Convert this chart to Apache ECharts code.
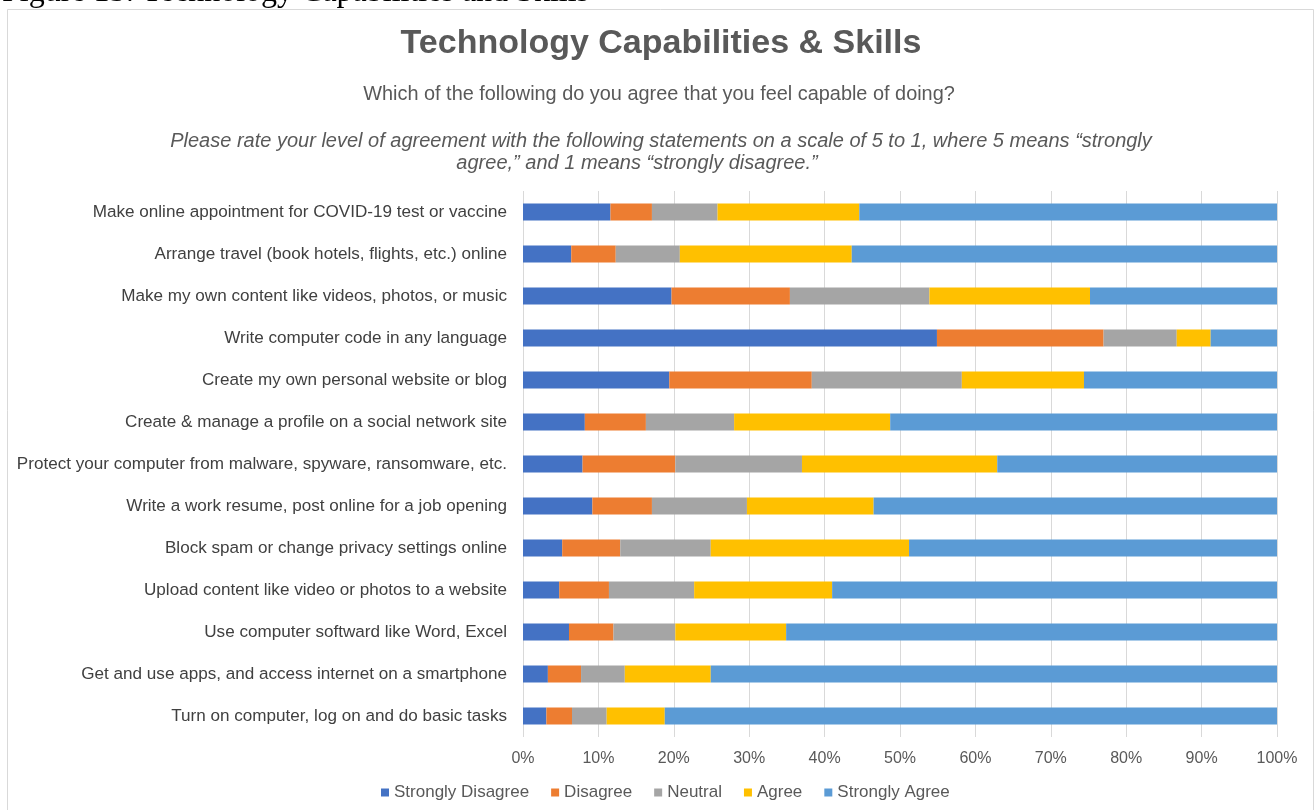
<!DOCTYPE html>
<html>
<head>
<meta charset="utf-8">
<title>Technology Capabilities &amp; Skills</title>
<script src="https://cdn.jsdelivr.net/npm/echarts@6/dist/echarts.min.js"></script>
<style>
  html, body { margin: 0; padding: 0; background: #ffffff; }
  #chart { width: 1316px; height: 810px; }
</style>
</head>
<body>
<div id="chart"></div>
<script>
// Survey statements, listed top to bottom
const categories = [
  'Make online appointment for COVID-19 test or vaccine',
  'Arrange travel (book hotels, flights, etc.) online',
  'Make my own content like videos, photos, or music',
  'Write computer code in any language',
  'Create my own personal website or blog',
  'Create & manage a profile on a social network site',
  'Protect your computer from malware, spyware, ransomware, etc.',
  'Write a work resume, post online for a job opening',
  'Block spam or change privacy settings online',
  'Upload content like video or photos to a website',
  'Use computer softward like Word, Excel',
  'Get and use apps, and access internet on a smartphone',
  'Turn on computer, log on and do basic tasks'
];

// Share of respondents (%) per answer, same order as categories
const stronglyDisagree = [11.6, 6.4, 19.7, 54.9, 19.4, 8.2, 7.9, 9.2, 5.2, 4.8, 6.1, 3.3, 3.1];
const disagree         = [5.5, 5.9, 15.7, 22.1, 18.9, 8.1, 12.3, 7.9, 7.7, 6.6, 5.9, 4.4, 3.4];
const neutral          = [8.7, 8.5, 18.5, 9.7, 19.9, 11.7, 16.8, 12.6, 12.0, 11.3, 8.2, 5.8, 4.6];
const agree            = [18.8, 22.8, 21.3, 4.5, 16.2, 20.7, 25.9, 16.8, 26.3, 18.3, 14.7, 11.4, 7.7];
const stronglyAgree    = [55.4, 56.4, 24.8, 8.8, 25.6, 51.3, 37.1, 53.5, 48.8, 59.0, 65.1, 75.1, 81.2];

const seriesNames = ['Strongly Disagree', 'Disagree', 'Neutral', 'Agree', 'Strongly Agree'];
const seriesData = [stronglyDisagree, disagree, neutral, agree, stronglyAgree];
const seriesColors = ['#4472C4', '#ED7D31', '#A5A5A5', '#FFC000', '#5B9BD5'];

const chart = echarts.init(document.getElementById('chart'), null, { renderer: 'canvas' });

const sans = 'Liberation Sans, Arial, sans-serif';

chart.setOption({
  animation: false,
  backgroundColor: '#ffffff',
  textStyle: { fontFamily: sans },
  graphic: [
    {
      type: 'rect', silent: true, z: 0,
      shape: { x: 7.5, y: 9.5, width: 1306, height: 830 },
      style: { fill: 'none', stroke: '#d9d9d9', lineWidth: 1 }
    },
    {
      type: 'text', silent: true, x: 2, y: -7,
      style: {
        text: 'Figure 15: Technology Capabilities and Skills',
        fontFamily: 'Liberation Serif, Times New Roman, serif',
        fontSize: 32, fill: '#000000', verticalAlign: 'middle'
      }
    },
    {
      type: 'text', silent: true, x: 661, y: 44,
      style: {
        text: 'Technology Capabilities & Skills',
        fontFamily: sans, fontSize: 34, fontWeight: 'bold',
        fill: '#595959', align: 'center', verticalAlign: 'middle'
      }
    },
    {
      type: 'text', silent: true, x: 659, y: 95,
      style: {
        text: 'Which of the following do you agree that you feel capable of doing?',
        fontFamily: sans, fontSize: 19.9,
        fill: '#595959', align: 'center', verticalAlign: 'middle'
      }
    },
    {
      type: 'text', silent: true, x: 661, y: 141,
      style: {
        text: 'Please rate your level of agreement with the following statements on a scale of 5 to 1, where 5 means \u201cstrongly',
        fontFamily: sans, fontSize: 20, fontStyle: 'italic',
        fill: '#595959', align: 'center', verticalAlign: 'middle'
      }
    },
    {
      type: 'text', silent: true, x: 637, y: 163,
      style: {
        text: 'agree,\u201d and 1 means \u201cstrongly disagree.\u201d',
        fontFamily: sans, fontSize: 20, fontStyle: 'italic',
        fill: '#595959', align: 'center', verticalAlign: 'middle'
      }
    }
  ],
  legend: {
    data: seriesNames,
    left: 376,
    top: 779,
    icon: 'rect',
    itemWidth: 8,
    itemHeight: 8,
    itemGap: 22,
    textStyle: { fontSize: 17, color: '#595959', fontFamily: sans }
  },
  grid: { left: 523, right: 39, top: 191, bottom: 73, containLabel: false },
  xAxis: {
    type: 'value',
    min: 0,
    max: 100,
    interval: 10,
    axisLine: { show: false },
    axisTick: { show: false },
    axisLabel: { formatter: '{value}%', fontSize: 16, color: '#595959', margin: 14, fontFamily: sans },
    splitLine: { lineStyle: { color: '#d9d9d9', width: 1 } }
  },
  yAxis: {
    type: 'category',
    inverse: true,
    data: categories,
    axisLine: { show: false },
    axisTick: { show: false },
    axisLabel: { fontSize: 17.1, color: '#404040', margin: 16, fontFamily: sans }
  },
  series: seriesNames.map((name, i) => ({
    name,
    type: 'bar',
    stack: 'total',
    barWidth: 17,
    itemStyle: { color: seriesColors[i] },
    data: seriesData[i]
  }))
});
</script>
</body>
</html>
